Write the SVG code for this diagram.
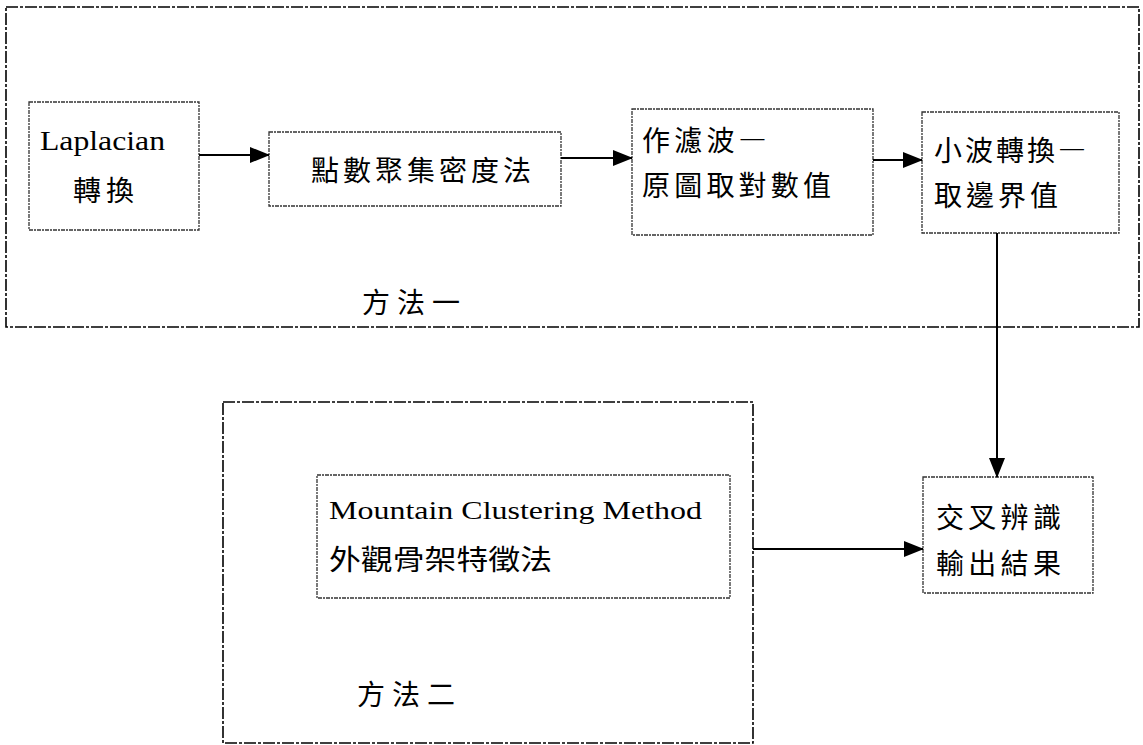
<svg xmlns="http://www.w3.org/2000/svg" width="1143" height="745" viewBox="0 0 1143 745">
<defs>
<style>
.outer{fill:none;stroke:#000;stroke-width:1.6;stroke-dasharray:12 2 3 2}
.inner{fill:none;stroke:#333;stroke-width:1.3;stroke-dasharray:4 1 2 1}
.conn{fill:none;stroke:#000;stroke-width:2}
.lat{font-family:"Liberation Serif","Times New Roman",serif;fill:#000}
.cjk{font-family:"Noto Sans CJK TC","Noto Sans CJK SC",sans-serif;fill:#000;font-weight:400}
.fw{font-feature-settings:"fwid" 1}
</style>
<marker id="ah" markerWidth="20" markerHeight="16" refX="19" refY="8" orient="auto" markerUnits="userSpaceOnUse">
<path d="M0,0 L20,8 L0,16 Z" fill="#000"/>
</marker>
</defs>
<rect width="1143" height="745" fill="#fff"/>
<g id="method1">
<rect class="outer" x="6" y="7" width="1133" height="320"/>
<text class="cjk" x="362" y="313" font-size="28" letter-spacing="7">方法一</text>
</g>
<g id="method2">
<rect class="outer" x="223" y="402" width="530" height="341"/>
<text class="cjk" x="357" y="705" font-size="28" letter-spacing="7">方法二</text>
</g>
<g id="laplacian">
<rect class="inner" x="29" y="102" width="170" height="128"/>
<text class="lat" x="40" y="150" font-size="28" textLength="125" lengthAdjust="spacingAndGlyphs">Laplacian</text>
<text class="cjk" x="73" y="201" font-size="28" letter-spacing="5">轉換</text>
</g>
<g id="density">
<rect class="inner" x="269" y="132" width="292" height="74"/>
<text class="cjk" x="311" y="181" font-size="28" letter-spacing="4">點數聚集密度法</text>
</g>
<g id="filter">
<rect class="inner" x="632" y="109" width="241" height="126"/>
<text class="cjk fw" x="642" y="151" font-size="28" letter-spacing="4.2">作濾波—</text>
<text class="cjk" x="642" y="196" font-size="28" letter-spacing="4.2">原圖取對數值</text>
</g>
<g id="wavelet">
<rect class="inner" x="922" y="112" width="197" height="121"/>
<text class="cjk fw" x="934" y="161" font-size="28" letter-spacing="3">小波轉換—</text>
<text class="cjk" x="934" y="206" font-size="28" letter-spacing="4">取邊界值</text>
</g>
<g id="mountain">
<rect class="inner" x="317" y="475" width="413" height="123"/>
<text class="lat" x="329" y="519" font-size="26" textLength="373" lengthAdjust="spacingAndGlyphs">Mountain Clustering Method</text>
<text class="cjk" x="329" y="570" font-size="28" textLength="223" lengthAdjust="spacingAndGlyphs">外觀骨架特徵法</text>
</g>
<g id="output">
<rect class="inner" x="923" y="477" width="170" height="116"/>
<text class="cjk" x="936" y="528" font-size="28" letter-spacing="4.3">交叉辨識</text>
<text class="cjk" x="936" y="574" font-size="28" letter-spacing="4.3">輸出結果</text>
</g>
<g id="connectors">
<line class="conn" x1="199" y1="155" x2="269" y2="155" marker-end="url(#ah)"/>
<line class="conn" x1="561" y1="158" x2="632" y2="158" marker-end="url(#ah)"/>
<line class="conn" x1="873" y1="160" x2="922" y2="160" marker-end="url(#ah)"/>
<line class="conn" x1="997" y1="233" x2="997" y2="477" marker-end="url(#ah)"/>
<line class="conn" x1="753" y1="549" x2="923" y2="549" marker-end="url(#ah)"/>
</g>
</svg>
